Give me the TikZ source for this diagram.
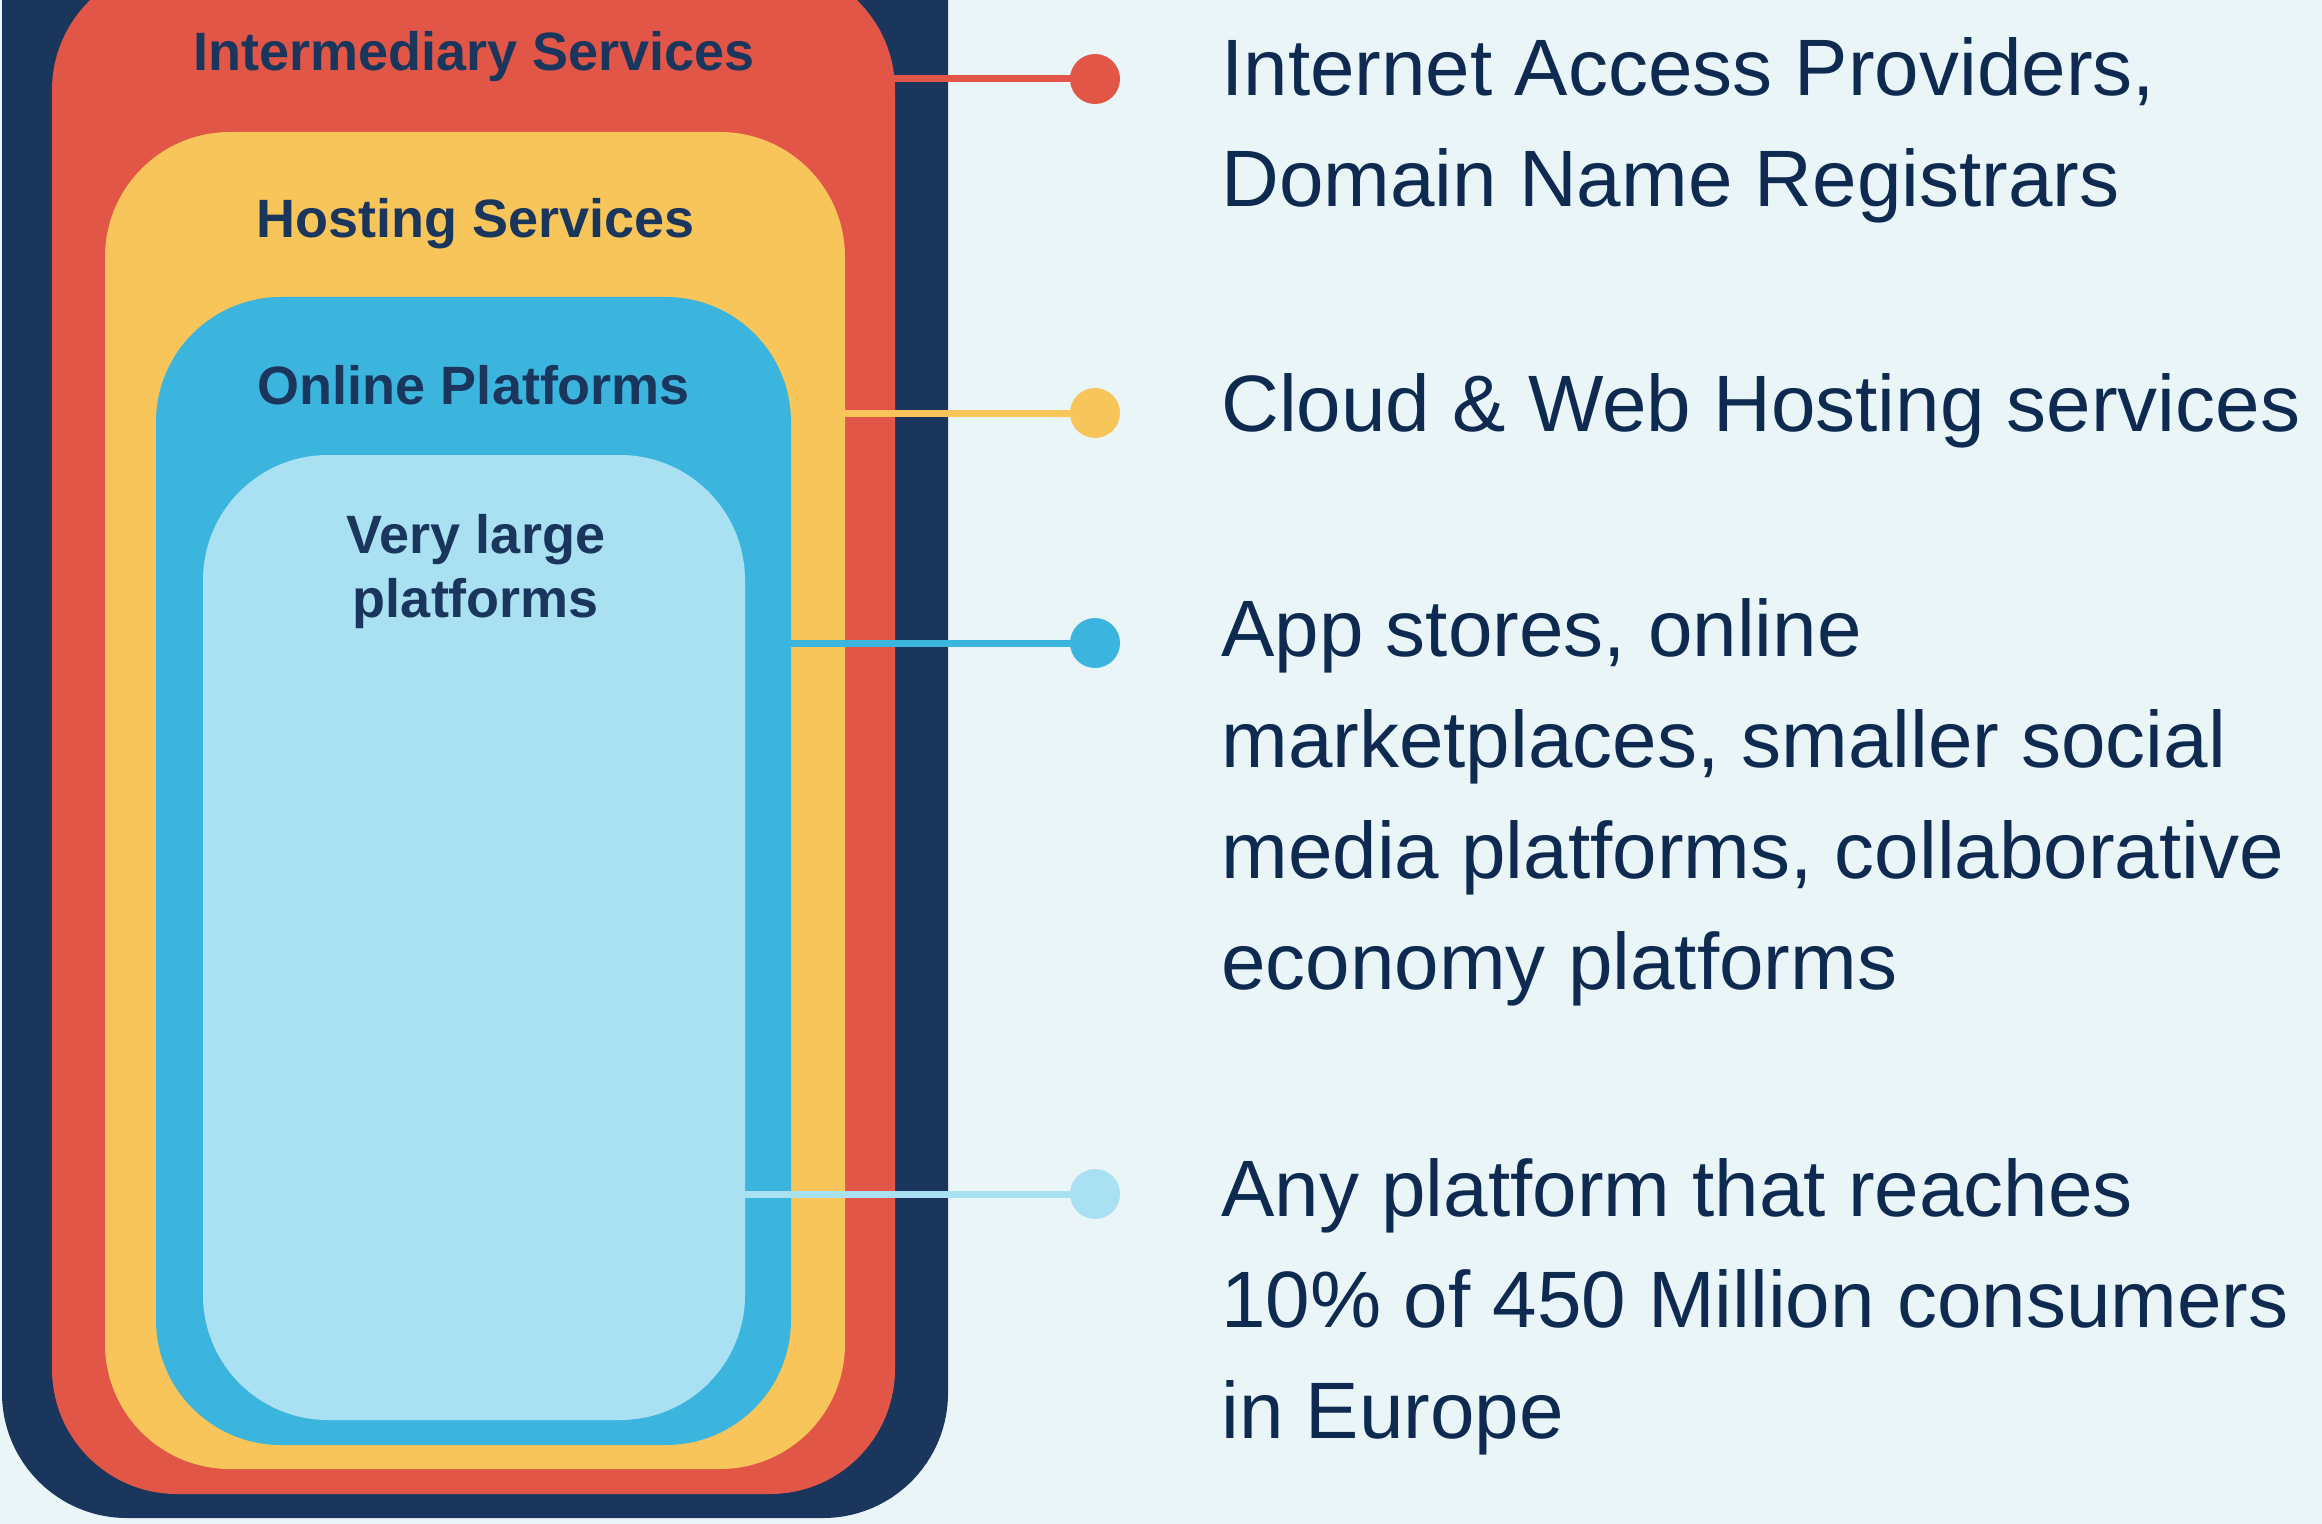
\documentclass[tikz,border=0pt]{standalone}
\usepackage{fontspec}
\setmainfont{Liberation Sans}

\definecolor{navy}{HTML}{1B365C}
\definecolor{redlayer}{HTML}{E15646}
\definecolor{yellowlayer}{HTML}{F8C55A}
\definecolor{bluelayer}{HTML}{3CB5DE}
\definecolor{lightlayer}{HTML}{A9E1F2}
\definecolor{paper}{HTML}{EAF5F7}
\definecolor{ink}{HTML}{0F2A50}

% multi-line nodes sit on the baseline of their last line
\tikzset{
  layer/.style={rounded corners=62.5pt},
  tag/.style={font=\fontsize{27}{32}\selectfont\bfseries, text=navy, align=center, anchor=base, inner sep=0pt},
  desc/.style={font=\fontsize{40}{55.5}\selectfont, text=ink, align=left, anchor=base west, inner sep=0pt},
  dot/.style={circle, fill=#1, minimum size=25pt, inner sep=0pt},
  link/.style={line width=3.5pt, draw=#1},
}

\begin{document}
\begin{tikzpicture}[x=0.5pt, y=-0.5pt]
\useasboundingbox (0,0) rectangle (2322,1524);
\clip (0,0) rectangle (2322,1524);
\fill[paper] (0,0) rectangle (2322,1524);
	% nested layers, outermost first
	\fill[navy, layer] (2,-200) rectangle (948,1518);
	\fill[redlayer, layer] (52,-35) rectangle (895,1494);
	\fill[yellowlayer, layer] (105,132) rectangle (845,1469);
	\fill[bluelayer, layer] (156,297) rectangle (791,1445);
	\fill[lightlayer, layer] (203,455) rectangle (745,1420);
	%
	\node[tag] (inter) at (474,71) {Intermediary Services};
	\node[tag] (hosting) at (476,238) {Hosting Services};
	\node[tag] (online) at (474,404) {Online Platforms};
	\node[tag] (vlop) at (476,617) {Very large\\platforms};
	%
	\coordinate (interEdge) at (893,79);
	\coordinate (hostingEdge) at (843,413);
	\coordinate (onlineEdge) at (789,643);
	\coordinate (vlopEdge) at (743,1194);
	\node[dot=redlayer] (interDot) at (1095,79) {};
	\node[dot=yellowlayer] (hostingDot) at (1095,413) {};
	\node[dot=bluelayer] (onlineDot) at (1095,643) {};
	\node[dot=lightlayer] (vlopDot) at (1095,1194) {};
	\draw[link=redlayer] (interEdge) -- (interDot.center);
	\draw[link=yellowlayer] (hostingEdge) -- (hostingDot.center);
	\draw[link=bluelayer] (onlineEdge) -- (onlineDot.center);
	\draw[link=lightlayer] (vlopEdge) -- (vlopDot.center);
	%
	\node[desc] (interText) at (1221,207) {Internet Access Providers,\\Domain Name Registrars};
	\node[desc] (hostingText) at (1221,431) {Cloud \& Web Hosting services};
	\node[desc] (onlineText) at (1221,989) {App stores, online\\marketplaces, smaller social\\media platforms, collaborative\\economy platforms};
	\node[desc] (vlopText) at (1221,1438) {Any platform that reaches\\10\% of 450 Million consumers\\in Europe};
\end{tikzpicture}
\end{document}
